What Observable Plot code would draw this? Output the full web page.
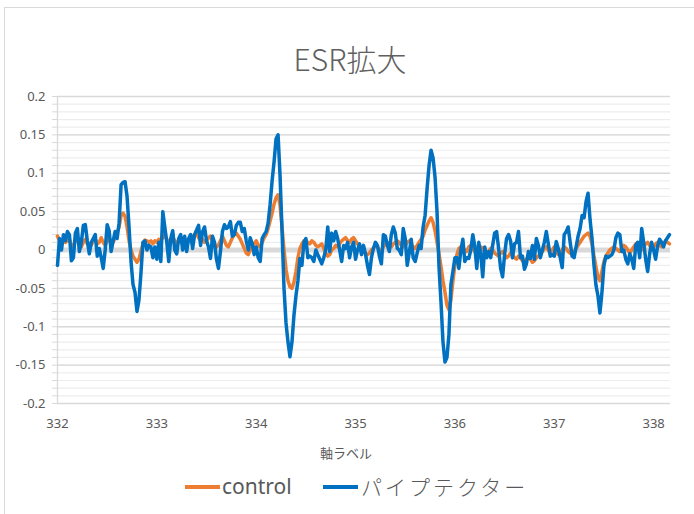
<!DOCTYPE html>
<html><head><meta charset="utf-8">
<script src="https://cdn.jsdelivr.net/npm/d3@7"></script>
<script src="https://cdn.jsdelivr.net/npm/@observablehq/plot@0.6"></script>
<style>
html,body{margin:0;padding:0;background:#fff;}
#wrap{position:relative;width:694px;height:514px;overflow:hidden;font-family:"Noto Sans","Noto Sans CJK JP",sans-serif;color:#595959;}
#frame{position:absolute;left:4px;top:7px;width:720px;height:540px;border-left:1px solid #d9d9d9;border-top:1px solid #d9d9d9;}
#chart{position:absolute;left:0;top:0;}
#title{position:absolute;left:0;width:700px;top:38px;text-align:center;font-size:30px;font-weight:300;line-height:40px;font-family:"Noto Sans CJK JP Light","Noto Sans CJK JP",sans-serif;color:#606060;}
#xlabel{position:absolute;left:246px;width:200px;top:444px;text-align:center;font-size:13px;line-height:18px;font-family:"Noto Sans CJK JP",sans-serif;color:#595959;}
.sw{position:absolute;height:4px;width:35px;top:485px;}
.lt{position:absolute;top:472px;font-size:21px;line-height:28px;color:#595959;white-space:nowrap;}
</style></head>
<body>
<div id="wrap">
  <div id="frame"></div>
  <div id="chart"></div>
  <div id="title">ESR拡大</div>
  <div id="xlabel">軸ラベル</div>
  <div class="sw" style="left:185px;background:#ED7D31"></div>
  <div class="lt" style="left:222px;font-family:'Noto Sans',sans-serif;">control</div>
  <div class="sw" style="left:323px;background:#0070C0"></div>
  <div class="lt" style="left:361px;font-family:'Noto Sans CJK JP Light','Noto Sans CJK JP',sans-serif;font-weight:300;letter-spacing:3px;">パイプテクター</div>
</div>
<script>
// sampling grid of the field axis
const xStart = 332;
const xStep = 0.02;

const seriesNames = ["control", "パイプテクター"];

const controlValues = [
0.018,0.012,0.008,0.015,0.01,0.012,0.014,0.006,0.004,0.012,
0.016,0.008,0.004,0.01,0.014,0.008,0.004,0.006,0.012,0.014,
0.008,0.01,0.016,0.01,0.006,0.012,0.014,0.008,0.01,0.016,
0.022,0.03,0.045,0.048,0.044,0.03,0.012,0.0,-0.008,-0.012,
-0.016,-0.012,-0.002,0.008,0.013,0.012,0.01,0.012,0.008,0.012,
0.01,0.014,0.012,0.016,0.02,0.014,0.01,0.012,0.016,0.012,
0.008,0.012,0.016,0.012,0.014,0.01,0.012,0.016,0.018,0.02,
0.022,0.016,0.012,0.014,0.01,0.012,0.016,0.018,0.012,0.008,
0.004,0.006,0.012,0.018,0.012,0.006,0.004,0.01,0.016,0.02,
0.022,0.018,0.014,0.008,0.002,-0.004,-0.006,0.0,0.004,0.008,
0.012,0.006,0.004,0.01,0.016,0.02,0.028,0.038,0.048,0.06,
0.068,0.072,0.058,0.03,0.0,-0.025,-0.04,-0.048,-0.05,-0.042,
-0.028,-0.01,0.002,0.008,0.012,0.012,0.01,0.008,0.012,0.01,
0.006,0.004,0.006,0.008,0.002,-0.004,-0.008,-0.006,0.0,0.002,
0.006,0.004,0.008,0.012,0.014,0.016,0.012,0.01,0.014,0.016,
0.012,0.008,0.004,0.0,-0.002,-0.004,-0.006,-0.004,0.0,0.002,
0.006,0.004,0.0,-0.002,0.004,0.008,0.01,0.006,0.004,0.008,
0.01,0.012,0.01,0.006,0.004,0.006,0.01,0.012,0.008,0.004,
0.002,0.006,0.01,0.014,0.018,0.026,0.032,0.038,0.042,0.036,
0.025,0.01,-0.005,-0.022,-0.04,-0.055,-0.072,-0.078,-0.065,-0.04,
-0.02,-0.006,0.002,0.004,0.002,0.0,-0.002,0.004,0.006,0.002,
-0.002,-0.004,0.0,0.004,0.002,-0.002,-0.006,-0.002,0.002,0.0,
-0.004,-0.006,-0.008,-0.004,-0.002,-0.006,-0.01,-0.008,-0.004,-0.006,
-0.01,-0.012,-0.008,-0.01,-0.014,-0.016,-0.012,-0.008,-0.012,-0.016,
-0.014,-0.01,-0.008,-0.004,-0.002,0.002,0.004,0.0,-0.004,0.0,
0.004,-0.002,-0.006,-0.004,0.0,0.004,0.002,-0.002,-0.004,-0.006,
-0.002,0.002,0.006,0.01,0.014,0.018,0.02,0.022,0.018,0.008,
-0.008,-0.022,-0.036,-0.04,-0.028,-0.015,-0.008,-0.004,0.0,0.002,
0.004,0.002,0.0,-0.002,0.002,0.006,0.004,0.0,-0.004,0.0,
0.004,0.008,0.006,0.002,0.0,0.004,0.008,0.01,0.006,0.002,
0.004,0.008,0.01,0.006,0.004,0.008,0.012,0.01,0.008
];

const pipeValues = [
-0.02,0.015,0.0,0.02,0.012,0.024,0.02,-0.014,-0.01,0.022,
0.028,-0.002,0.01,0.032,0.033,0.012,-0.005,0.01,0.015,0.02,
-0.008,0.002,-0.01,-0.024,0.0,0.033,0.025,-0.002,0.012,0.024,
0.015,0.035,0.085,0.088,0.089,0.07,0.03,-0.015,-0.045,-0.055,
-0.08,-0.065,-0.03,0.01,0.012,0.0,0.006,0.004,-0.01,0.004,
-0.012,0.01,-0.015,0.05,0.03,0.01,-0.015,0.015,0.025,0.0,
-0.005,0.015,0.02,0.0,0.018,-0.002,0.015,0.02,0.002,0.02,
0.026,0.032,0.006,0.024,0.03,0.012,0.004,-0.011,0.018,0.01,
-0.012,-0.024,-0.002,0.024,0.033,0.028,0.03,0.037,0.018,0.02,
0.032,0.036,0.036,0.024,0.028,0.012,0.0,0.016,0.008,-0.006,
0.004,-0.01,-0.015,0.015,0.02,0.024,0.035,0.059,0.09,0.115,
0.145,0.15,0.097,0.025,-0.05,-0.095,-0.12,-0.139,-0.12,-0.085,
-0.06,-0.04,-0.011,-0.02,0.01,0.015,-0.01,-0.008,-0.01,-0.015,
0.0,-0.006,-0.012,-0.018,-0.01,0.0,0.03,-0.002,0.022,0.012,
0.024,0.015,0.0,-0.015,0.006,0.002,0.01,-0.01,0.004,0.01,
-0.012,0.0,0.008,-0.006,0.006,-0.005,-0.02,-0.032,-0.01,0.002,
0.01,0.006,-0.008,-0.018,0.02,0.018,0.006,-0.002,0.02,0.03,
0.022,0.002,0.0,-0.006,0.028,0.015,-0.02,-0.004,0.014,-0.01,
-0.015,-0.004,0.006,0.002,0.03,0.045,0.08,0.11,0.13,0.12,
0.095,0.05,-0.022,-0.068,-0.12,-0.146,-0.14,-0.11,-0.045,-0.028,
-0.01,-0.01,-0.024,0.0,0.014,-0.015,-0.01,-0.011,0.0,0.02,
0.005,-0.024,0.01,-0.005,-0.035,0.004,-0.01,-0.002,-0.01,0.006,
0.022,0.024,0.002,-0.024,-0.035,-0.006,0.015,0.02,0.012,-0.01,
0.008,0.01,0.024,-0.01,-0.008,-0.025,-0.018,-0.002,-0.011,0.006,
-0.012,0.015,0.006,-0.01,0.0,0.01,0.024,0.008,-0.008,-0.006,
-0.008,0.011,0.002,-0.01,-0.023,0.02,0.024,0.03,0.01,-0.008,
-0.01,0.004,0.018,0.028,0.045,0.042,0.063,0.074,0.04,0.015,
-0.02,-0.046,-0.06,-0.082,-0.055,-0.02,-0.008,-0.01,-0.008,-0.006,
0.0,0.016,0.022,0.02,-0.002,0.0,-0.012,-0.018,-0.005,-0.012,
-0.024,0.006,0.01,-0.01,0.028,0.01,-0.012,-0.028,-0.005,0.01,
0.0,-0.012,0.005,0.014,0.01,0.004,0.012,0.016,0.02
];

const xTicks = [332, 333, 334, 335, 336, 337, 338];
const yMajorTicks = [-0.2, -0.15, -0.1, -0.05, 0, 0.05, 0.1, 0.15, 0.2];
const yMinorTicks = d3.range(-20, 21).map(k => k / 100);

const toRows = vals => vals.map((v, i) => ({x: +(xStart + i * xStep).toFixed(2), y: v}));
const controlRows = toRows(controlValues);
const pipeRows = toRows(pipeValues);

const fmt = d => String(+d.toFixed(2));

const chart = Plot.plot({
  width: 694,
  height: 514,
  marginTop: 96,
  marginBottom: 111,
  marginLeft: 57,
  marginRight: 24,
  style: {background: "transparent", fontFamily: "'Noto Sans', sans-serif", fontSize: "13px", color: "#595959"},
  x: {domain: [332, 338.17], axis: null},
  y: {domain: [-0.2, 0.2], axis: null},
  marks: [
    Plot.gridY(yMinorTicks, {stroke: "#ededed", strokeOpacity: 1, strokeWidth: 1.2}),
    Plot.gridY(yMajorTicks, {stroke: "#d9d9d9", strokeOpacity: 1, strokeWidth: 1.3}),
    Plot.axisY(yMinorTicks, {tickSize: 5, stroke: "#d9d9d9", tickFormat: () => "", label: null}),
    Plot.axisY(yMajorTicks, {tickSize: 0, tickPadding: 12, tickFormat: fmt, label: null, fill: "#595959"}),
    Plot.axisX(xTicks, {tickSize: 0, tickPadding: 15, tickFormat: d => String(d), label: null, fill: "#595959"}),
    Plot.ruleX([332], {stroke: "#d9d9d9", strokeWidth: 1.3}),
    Plot.ruleY([0], {stroke: "#d9d9d9", strokeWidth: 5}),
    Plot.line(controlRows, {x: "x", y: "y", stroke: "#ED7D31", strokeWidth: 3.5, strokeLinejoin: "round"}),
    Plot.line(pipeRows, {x: "x", y: "y", stroke: "#0070C0", strokeWidth: 3.5, strokeLinejoin: "round"})
  ]
});
document.getElementById("chart").appendChild(chart);
</script>
</body></html>
